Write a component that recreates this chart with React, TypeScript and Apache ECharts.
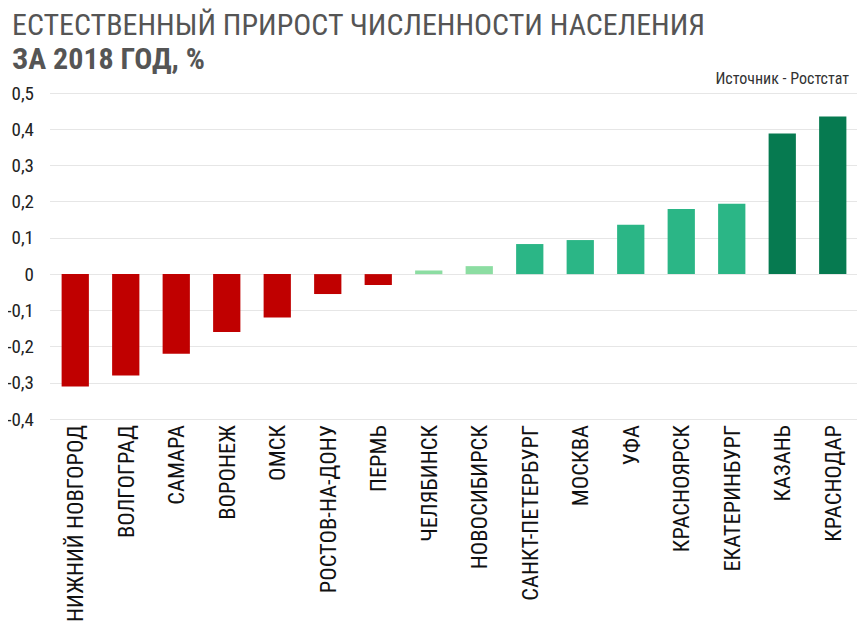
import React, { useEffect, useRef } from "react";
import * as echarts from "echarts";

const cities = [
  "НИЖНИЙ НОВГОРОД",
  "ВОЛГОГРАД",
  "САМАРА",
  "ВОРОНЕЖ",
  "ОМСК",
  "РОСТОВ-НА-ДОНУ",
  "ПЕРМЬ",
  "ЧЕЛЯБИНСК",
  "НОВОСИБИРСК",
  "САНКТ-ПЕТЕРБУРГ",
  "МОСКВА",
  "УФА",
  "КРАСНОЯРСК",
  "ЕКАТЕРИНБУРГ",
  "КАЗАНЬ",
  "КРАСНОДАР",
];
const growth = [-0.31, -0.28, -0.22, -0.16, -0.12, -0.055, -0.03, 0.01, 0.022, 0.083, 0.094, 0.136, 0.18, 0.194, 0.388, 0.435];
const barColors = [
  "#C00000", "#C00000", "#C00000", "#C00000", "#C00000", "#C00000", "#C00000",
  "#8CDDA2", "#8CDDA2",
  "#2BB686", "#2BB686", "#2BB686", "#2BB686", "#2BB686",
  "#067A50", "#067A50",
];
const titleLine1 = "ЕСТЕСТВЕННЫЙ ПРИРОСТ ЧИСЛЕННОСТИ НАСЕЛЕНИЯ";
const titleLine2 = "ЗА 2018 ГОД, %";
const sourceText = "Источник - Ростстат";

const FONT = "'Roboto Condensed', 'Liberation Sans Narrow', 'DejaVu Sans Condensed', Roboto, sans-serif";

export default function App() {
  const ref = useRef<HTMLDivElement>(null);
  useEffect(() => {
    if (!ref.current) return;
    const chart = echarts.init(ref.current, undefined, { renderer: "svg" });
    chart.setOption({
      animation: false,
      backgroundColor: "#ffffff",
      graphic: [
        {
          type: "text",
          left: 12,
          top: 9,
          style: { text: titleLine1, fontFamily: FONT, fontSize: 30, fill: "#555555" },
        },
        {
          type: "text",
          left: 12,
          top: 43,
          style: { text: titleLine2, fontFamily: FONT, fontSize: 30, fontWeight: "bold", fill: "#555555" },
        },
        {
          type: "text",
          right: 16,
          top: 70,
          style: { text: sourceText, fontFamily: FONT, fontSize: 16, fill: "#333333" },
        },
      ],
      grid: { left: 50, right: 7, top: 93, bottom: 211 },
      xAxis: {
        type: "category",
        data: cities,
        axisLine: { show: false },
        axisTick: { show: false },
        axisLabel: {
          rotate: 90,
          interval: 0,
          margin: 6,
          fontFamily: FONT,
          fontSize: 22.5,
          color: "#111111",
        },
      },
      yAxis: {
        type: "value",
        min: -0.4,
        max: 0.5,
        interval: 0.1,
        axisLine: { show: false },
        axisTick: { show: false },
        splitLine: { lineStyle: { color: "#e6e6e6", width: 1 } },
        axisLabel: {
          margin: 16,
          fontFamily: FONT,
          fontSize: 19,
          color: "#222222",
          formatter: (v: number) => {
            const r = Math.round(v * 10) / 10;
            return r === 0 ? "0" : String(r).replace(".", ",");
          },
        },
      },
      series: [
        {
          type: "bar",
          barWidth: "54%",
          data: growth.map((v, i) => ({ value: v, itemStyle: { color: barColors[i] } })),
        },
      ],
    });
    return () => chart.dispose();
  }, []);
  return <div ref={ref} style={{ width: 865, height: 630, margin: -8 }} />;
}
